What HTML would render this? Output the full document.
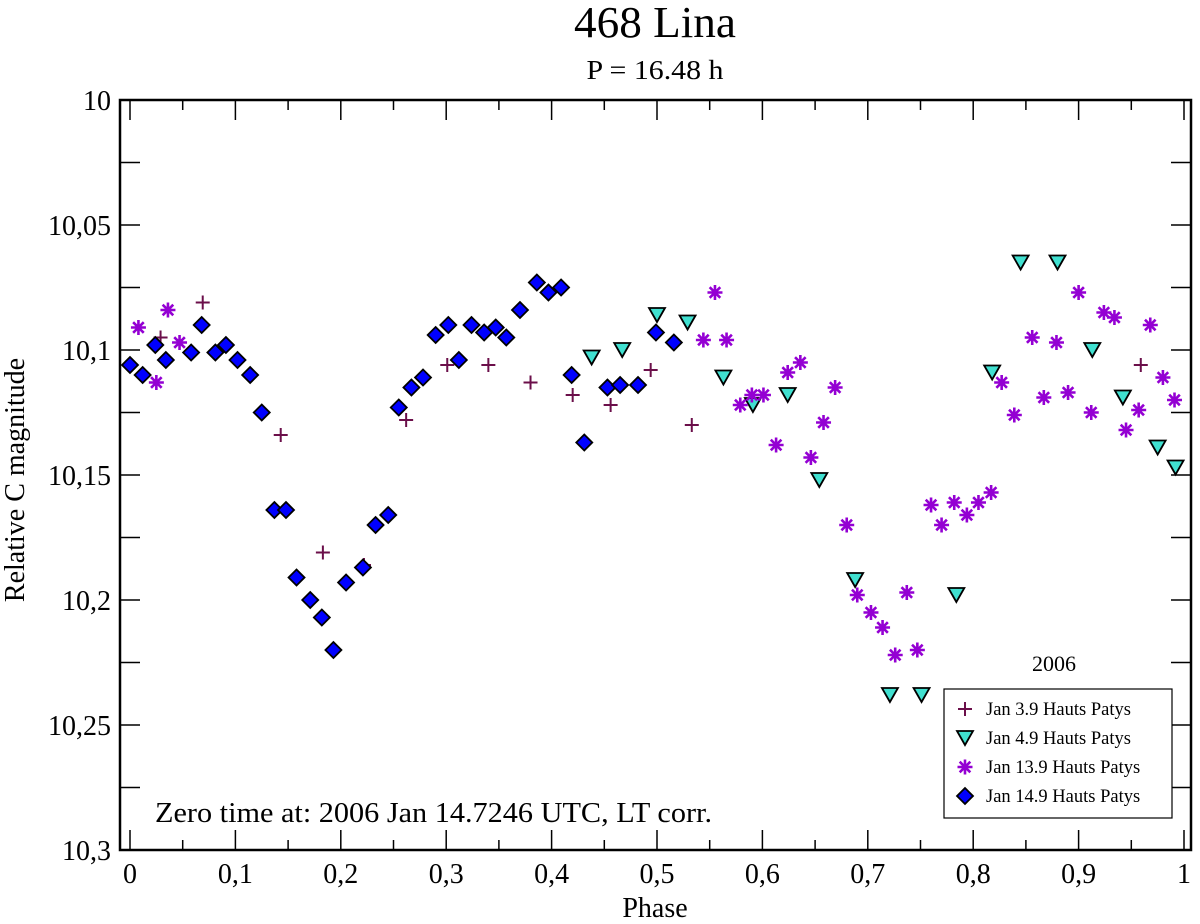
<!DOCTYPE html>
<html><head><meta charset="utf-8"><style>
html,body{margin:0;padding:0;background:#fff;}
svg{display:block;font-family:"Liberation Serif",serif;}
</style></head><body>
<svg id="chart" width="1200" height="924" viewBox="0 0 1200 924" xmlns="http://www.w3.org/2000/svg">
<text x="655" y="37" font-size="44" text-anchor="middle" textLength="162" lengthAdjust="spacingAndGlyphs">468 Lina</text>
<text x="655" y="79" font-size="27" text-anchor="middle" textLength="137" lengthAdjust="spacingAndGlyphs">P = 16.48 h</text>
<rect x="120" y="100" width="1071" height="750" fill="none" stroke="#000" stroke-width="2.5"/>
<g id="axes"></g>
<g id="marks"></g>
<text x="655" y="917" font-size="28" text-anchor="middle">Phase</text>
<text transform="translate(24,480) rotate(-90)" font-size="28" text-anchor="middle">Relative C magnitude</text>
<text x="155" y="822" font-size="28" textLength="557" lengthAdjust="spacingAndGlyphs">Zero time at: 2006 Jan 14.7246 UTC, LT corr.</text>
<text x="1054" y="671" font-size="22" text-anchor="middle">2006</text>
<g id="legend">
<rect x="944" y="689" width="228" height="129" fill="#fff" stroke="#000" stroke-width="1.2"/>
</g>
</svg>
<script>
const NS="http://www.w3.org/2000/svg";
// data
const plusPhase=[0.029,0.069,0.103,0.143,0.183,0.222,0.262,0.301,0.340,0.380,0.420,0.456,0.494,0.533,0.959];
const plusMag=[10.095,10.081,10.104,10.134,10.181,10.186,10.128,10.106,10.106,10.113,10.118,10.122,10.108,10.130,10.106];
const triPhase=[0.438,0.467,0.500,0.529,0.563,0.591,0.624,0.654,0.688,0.721,0.751,0.784,0.818,0.845,0.880,0.913,0.942,0.975,0.992];
const triMag=[10.103,10.100,10.086,10.089,10.111,10.122,10.118,10.152,10.192,10.238,10.238,10.198,10.109,10.065,10.065,10.100,10.119,10.139,10.147];
const starPhase=[0.008,0.036,0.025,0.047,0.555,0.544,0.566,0.579,0.590,0.601,0.613,0.624,0.636,0.646,0.658,0.669,0.680,0.690,0.703,0.714,0.726,0.737,0.747,0.760,0.770,0.782,0.794,0.805,0.817,0.827,0.839,0.856,0.867,0.879,0.890,0.900,0.912,0.924,0.934,0.945,0.957,0.968,0.980,0.991];
const starMag=[10.091,10.084,10.113,10.097,10.077,10.096,10.096,10.122,10.118,10.118,10.138,10.109,10.105,10.143,10.129,10.115,10.170,10.198,10.205,10.211,10.222,10.197,10.220,10.162,10.170,10.161,10.166,10.161,10.157,10.113,10.126,10.095,10.119,10.097,10.117,10.077,10.125,10.085,10.087,10.132,10.124,10.090,10.111,10.120,10.076];
const diaPhase=[0.000,0.012,0.024,0.034,0.058,0.068,0.081,0.091,0.102,0.114,0.125,0.137,0.148,0.158,0.171,0.182,0.193,0.205,0.221,0.233,0.245,0.255,0.267,0.278,0.290,0.302,0.312,0.324,0.336,0.347,0.357,0.370,0.386,0.397,0.409,0.419,0.431,0.453,0.465,0.482,0.499,0.516];
const diaMag=[10.106,10.110,10.098,10.104,10.101,10.090,10.101,10.098,10.104,10.110,10.125,10.164,10.164,10.191,10.200,10.207,10.220,10.193,10.187,10.170,10.166,10.123,10.115,10.111,10.094,10.090,10.104,10.090,10.093,10.091,10.095,10.084,10.073,10.077,10.075,10.110,10.137,10.115,10.114,10.114,10.093,10.097];
const xTicks=[0,0.1,0.2,0.3,0.4,0.5,0.6,0.7,0.8,0.9,1];
const xTickLabels=["0","0,1","0,2","0,3","0,4","0,5","0,6","0,7","0,8","0,9","1"];
const yTicks=[10,10.05,10.1,10.15,10.2,10.25,10.3];
const yTickLabels=["10","10,05","10,1","10,15","10,2","10,25","10,3"];

const X=p=>130+p*1054;
const Y=m=>100+(m-10)*2500;
function el(tag,attrs,parent){const e=document.createElementNS(NS,tag);for(const k in attrs)e.setAttribute(k,attrs[k]);parent.appendChild(e);return e;}
const axes=document.getElementById('axes'), marks=document.getElementById('marks');

for(let i=0;i<=20;i++){const p=i*0.05,x=X(p),len=(i%2===0)?20:10;
 const t=el('line',{x1:x,y1:850,x2:x,y2:850-len,stroke:'#000','stroke-width':1.5},axes);
 
 
 const t2=el('line',{x1:x,y1:100,x2:x,y2:100+len,stroke:'#000','stroke-width':1.5},axes);
 
 }
xTicks.forEach((v,i)=>{const t=el('text',{x:X(v),y:883,'font-size':28,'text-anchor':'middle'},axes);t.textContent=xTickLabels[i];
 
 });
for(let i=0;i<=12;i++){const y=Y(10+i*0.025);
 const t=el('line',{x1:120,y1:y,x2:140,y2:y,stroke:'#000','stroke-width':1.5},axes);
 
 
 const t2=el('line',{x1:1171,y1:y,x2:1191,y2:y,stroke:'#000','stroke-width':1.5},axes);
 
 }
yTicks.forEach((v,i)=>{const t=el('text',{x:111,y:Y(v)+10,'font-size':28,'text-anchor':'end'},axes);t.textContent=yTickLabels[i];
 
 });

function plus(x,y,g){const d=`M${x-7},${y}H${x+7}M${x},${y-7}V${y+7}`;return el('path',{d:d,stroke:'#6b0f4a','stroke-width':2,fill:'none'},g);}
function tri(x,y,g){return el('path',{d:`M${x-8},${y-7}L${x+8},${y-7}L${x},${y+7}Z`,fill:'#40e0d0',stroke:'#000','stroke-width':1.8},g);}
function star(x,y,g){let d='';for(let k=0;k<4;k++){const a=k*Math.PI/4,dx=7.5*Math.cos(a),dy=7.5*Math.sin(a);d+=`M${x-dx},${y-dy}L${x+dx},${y+dy}`;}
 return el('path',{d:d,stroke:'#9400d3','stroke-width':2.6,fill:'none'},g);}
function dia(x,y,g){return el('path',{d:`M${x},${y-8}L${x+8},${y}L${x},${y+8}L${x-8},${y}Z`,fill:'#0000ff',stroke:'#000','stroke-width':1.8},g);}

const gP=el('g',{},marks);
const gT=el('g',{},marks);
const gS=el('g',{},marks);
const gD=el('g',{},marks);
plusPhase.forEach((p,i)=>{const m=plus(X(p),Y(plusMag[i]),gP);
 
 });
triPhase.forEach((p,i)=>{const m=tri(X(p),Y(triMag[i]),gT);
 
 });
starPhase.forEach((p,i)=>{const m=star(X(p),Y(starMag[i]),gS);
 
 });
diaPhase.forEach((p,i)=>{const m=dia(X(p),Y(diaMag[i]),gD);
 
 });

const lg=document.getElementById('legend');
const labels=["Jan 3.9 Hauts Patys","Jan 4.9 Hauts Patys","Jan 13.9 Hauts Patys","Jan 14.9 Hauts Patys"];
const fns=[plus,tri,star,dia];
labels.forEach((t,i)=>{const y=709+i*29;
 const m=fns[i](965,y,lg);
 
 
 const tx=el('text',{x:986,y:y+6,'font-size':18.5},lg);tx.textContent=t;
 
 });
</script>
</body></html>
